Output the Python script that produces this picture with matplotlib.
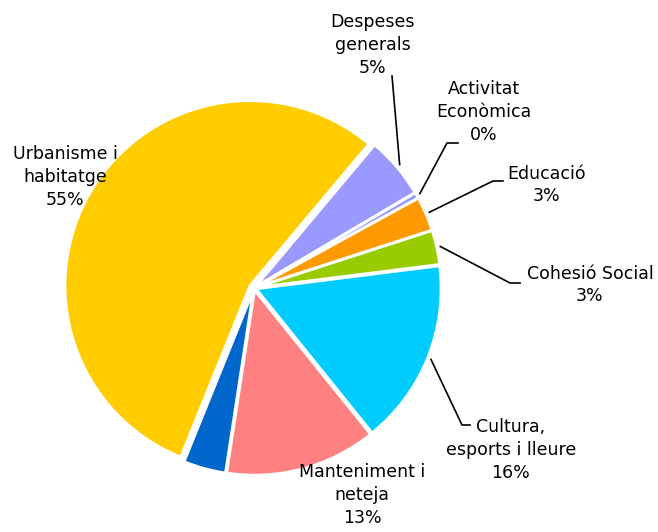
import numpy as np
import matplotlib.pyplot as plt

categories = ["Urbanisme i\nhabitatge", "", "Manteniment i\nneteja", "Cultura,\nesports i lleure",
              "Cohesió Social", "Educació", "Activitat\nEconòmica", "Despeses\ngenerals"]
values = [55.0, 3.7, 13.2, 16.2, 3.0, 3.0, 0.5, 5.4]
colors = ["#FFCC00", "#0066CC", "#FF8080", "#00CCFF", "#99CC00", "#FF9900", "#9999FF", "#9999FF"]
explode = [0.025, 0.012, 0.012, 0.012, 0.012, 0.012, 0.012, 0.012]

# label centres and leader elbows, in pie units (radius 1, centre 0,0)
px = 185.0
cx, cy = 254.0, 288.0
def p(x, y):
    return ((x - cx) / px, (cy - y) / px)

label_pos = [p(65, 177), None, p(362, 495), p(511, 450), p(590, 285), p(547, 185), p(484, 112), p(373, 45)]
elbows = [None, None, None, [p(462, 425), p(470, 425)], [p(510, 283), p(520, 283)],
          [p(493, 181), p(503, 181)], [p(447, 143), p(458, 143)], [p(392, 76)]]

fig = plt.figure(figsize=(6.58, 5.32), dpi=100)
ax = fig.add_axes([0, 0, 1, 1])

total = sum(values)
wedges, _ = ax.pie(values, colors=colors, startangle=50, counterclock=True,
                   explode=explode, radius=1.0,
                   wedgeprops=dict(edgecolor="white", linewidth=2))

for i, w in enumerate(wedges):
    if label_pos[i] is None:
        continue
    pct = int(round(values[i] / total * 100))
    lx, ly = label_pos[i]
    ax.text(lx, ly, f"{categories[i]}\n{pct}%", ha="center", va="center",
            fontsize=12.5, family="DejaVu Sans", linespacing=1.35, color="black")
    if elbows[i] is not None:
        ang = np.deg2rad((w.theta1 + w.theta2) / 2)
        r = 1.0 + explode[i] + 0.02
        sx, sy = r * np.cos(ang), r * np.sin(ang)
        xs = [sx] + [e[0] for e in elbows[i]]
        ys = [sy] + [e[1] for e in elbows[i]]
        ax.plot(xs, ys, color="black", linewidth=1.2)

ax.set_xlim(-cx / px, (658 - cx) / px)
ax.set_ylim((cy - 532) / px, cy / px)
ax.set_aspect("equal")
ax.axis("off")

fig.savefig("out.png", dpi=100)
